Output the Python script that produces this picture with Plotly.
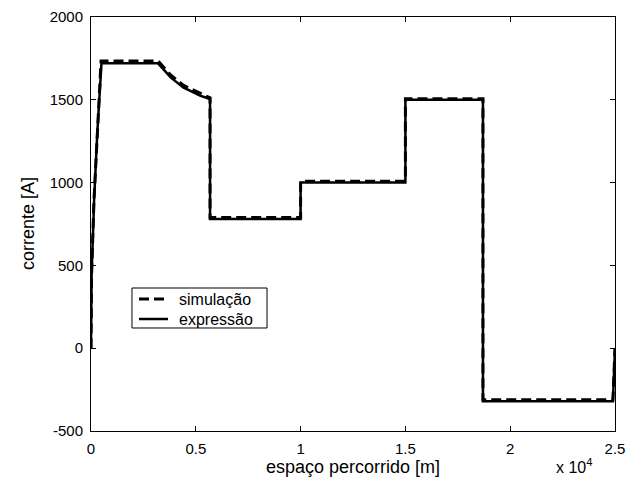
import plotly.graph_objects as go

# distance [m] and current [A]
x_expr = [0, 30, 150, 300, 500, 3200, 3800, 4400, 5200, 5680, 5680, 10000, 10000,
          15000, 15000, 18700, 18700, 24900, 25000]
y_expr = [0, 450, 900, 1300, 1720, 1720, 1635, 1575, 1525, 1505, 780, 780, 1000,
          1000, 1500, 1500, -320, -320, 0]

x_sim = [0, 25, 140, 290, 480, 3200, 3800, 4400, 5200, 5680, 5680, 10000, 10000,
         15000, 15000, 18700, 18700, 24900, 25000]
y_sim = [0, 430, 890, 1300, 1735, 1735, 1650, 1588, 1538, 1512, 790, 790, 1008,
         1008, 1507, 1507, -312, -312, 0]

x_ticks = [0, 5000, 10000, 15000, 20000, 25000]
x_ticklabels = ["0", "0.5", "1", "1.5", "2", "2.5"]
y_ticks = [-500, 0, 500, 1000, 1500, 2000]
y_ticklabels = ["-500", "0", "500", "1000", "1500", "2000"]

series_names = ["simulação", "expressão"]

font = "Arial, Liberation Sans, sans-serif"
SIM_DASH = "10px,5px"

fig = go.Figure()
fig.add_trace(go.Scatter(x=x_sim, y=y_sim, mode="lines", name=series_names[0],
                         line=dict(color="black", width=3, dash=SIM_DASH)))
fig.add_trace(go.Scatter(x=x_expr, y=y_expr, mode="lines", name=series_names[1],
                         line=dict(color="black", width=2.5)))

axis_common = dict(showline=True, linecolor="black", linewidth=1, mirror="ticks",
                   ticks="inside", ticklen=5, tickcolor="black", showgrid=False,
                   zeroline=False, automargin=False, ticklabelstandoff=4,
                   tickfont=dict(family=font, size=15, color="black"))

fig.update_xaxes(range=[0, 25000], tickvals=x_ticks, ticktext=x_ticklabels, **axis_common)
fig.update_yaxes(range=[-500, 2000], tickvals=y_ticks, ticktext=y_ticklabels, **axis_common)

fig.add_annotation(text="espaço percorrido [m]", xref="paper", yref="paper",
                   x=0.5, y=-0.086, xanchor="center", yanchor="middle", showarrow=False,
                   font=dict(family=font, size=18, color="black"))
fig.add_annotation(text="corrente [A]", xref="paper", yref="paper", textangle=-90,
                   x=-0.12, y=0.5, xanchor="center", yanchor="middle", showarrow=False,
                   font=dict(family=font, size=18, color="black"))
fig.add_annotation(text="x 10<sup>4</sup>", xref="paper", yref="paper",
                   x=0.922, y=-0.084, xanchor="center", yanchor="middle", showarrow=False,
                   font=dict(family=font, size=16, color="black"))

# compact legend box drawn in paper coordinates (like the original)
fig.add_shape(type="rect", xref="paper", yref="paper", x0=0.0782, x1=0.3359,
              y0=0.2488, y1=0.3454, line=dict(color="black", width=1),
              fillcolor="white", layer="above")
leg_y = [0.3188, 0.2705]
leg_dash = [SIM_DASH, "solid"]
leg_w = [3, 2.5]
for name, yy, dsh, w in zip(series_names, leg_y, leg_dash, leg_w):
    fig.add_shape(type="line", xref="paper", yref="paper", x0=0.0916, x1=0.1469,
                  y0=yy, y1=yy, line=dict(color="black", width=w, dash=dsh), layer="above")
    fig.add_annotation(text=name, xref="paper", yref="paper", x=0.1641, y=yy,
                       xanchor="left", yanchor="middle", showarrow=False,
                       font=dict(family=font, size=16, color="black"))

# page body has an 8px margin, so the figure is shifted by 8px
fig.update_layout(
    width=628, height=473,
    margin=dict(l=83, r=21, t=9, b=50),
    paper_bgcolor="white", plot_bgcolor="white",
    showlegend=False,
)

fig.write_html("out.html")
